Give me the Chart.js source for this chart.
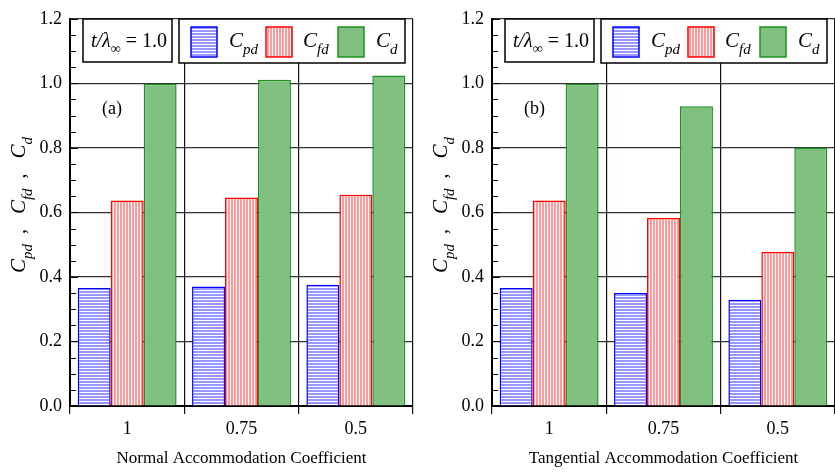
<!DOCTYPE html>
<html>
<head>
<meta charset="utf-8">
<title>Drag coefficients vs accommodation coefficient</title>
<script src="https://cdn.jsdelivr.net/npm/chart.js@4.4.1/dist/chart.umd.min.js"></script>
<style>
  html, body { margin:0; padding:0; background:#fff; overflow:hidden; }
  body { width:835px; height:472px; position:relative; }
  canvas { position:absolute; top:0; }
  #chartA { left:0; }
  #chartB { left:422px; }
</style>
</head>
<body>
<canvas id="chartA" width="421" height="472"></canvas>
<canvas id="chartB" width="421" height="472"></canvas>
<script>
// categories and tick values
const CATEGORIES = ['1', '0.75', '0.5'];
const Y_TICKS = [0, 0.2, 0.4, 0.6, 0.8, 1.0, 1.2];

// (a) normal accommodation coefficient
const CPD_NORMAL = [0.366, 0.370, 0.376];
const CFD_NORMAL = [0.637, 0.646, 0.655];
const CD_NORMAL  = [0.999, 1.011, 1.024];

// (b) tangential accommodation coefficient
const CPD_TANG = [0.366, 0.350, 0.329];
const CFD_TANG = [0.637, 0.583, 0.477];
const CD_TANG  = [0.999, 0.929, 0.801];

const SERIF = "'Liberation Serif', 'Times New Roman', serif";

Chart.defaults.font.family = SERIF;
Chart.defaults.font.size = 18;
Chart.defaults.color = '#000';

// striped fills like the original plot
function stripes(color, vertical) {
  const c = document.createElement('canvas');
  c.width = 3; c.height = 3;
  const g = c.getContext('2d');
  g.fillStyle = '#fff';
  g.fillRect(0, 0, 3, 3);
  g.fillStyle = color;
  if (vertical) g.fillRect(0, 0, 2, 3); else g.fillRect(0, 0, 3, 2);
  return g.createPattern(c, 'repeat');
}

function fontOf(p) {
  return (p.i ? 'italic ' : '') + (p.s || 20) + 'px ' + SERIF;
}

// draws text pieces side by side (used for subscripts)
function drawRich(ctx, parts, x, y, center) {
  let w = 0;
  parts.forEach(p => { ctx.font = fontOf(p); w += ctx.measureText(p.t).width; });
  let cx = center ? x - w / 2 : x;
  ctx.textAlign = 'left';
  ctx.textBaseline = 'alphabetic';
  parts.forEach(p => {
    ctx.font = fontOf(p);
    ctx.fillText(p.t, cx, y + (p.dy || 0));
    cx += ctx.measureText(p.t).width;
  });
}

const coef = sub => [{ t: 'C', i: true, s: 21 }, { t: sub, i: true, s: 15, dy: 7 }];

// minor ticks, legend boxes, panel tag and y title
const decoPlugin = {
  id: 'deco',
  afterDraw(chart, args, opts) {
    const ctx = chart.ctx;
    const y = chart.scales.y;
    const left = chart.chartArea.left;
    ctx.save();
    ctx.strokeStyle = '#000';
    ctx.lineWidth = 1;
    for (let i = 0; i <= 24; i++) {
      const py = Math.round(y.getPixelForValue(i * 0.05)) + 0.5;
      ctx.beginPath();
      ctx.moveTo(left, py);
      ctx.lineTo(left + (i % 4 === 0 ? 8 : 6), py);
      ctx.stroke();
    }

    ctx.lineWidth = 1.5;
    // parameter box
    ctx.fillStyle = '#fff';
    ctx.fillRect(83, 19, 89, 43);
    ctx.strokeRect(83, 19, 89, 43);
    ctx.fillStyle = '#000';
    drawRich(ctx, [
      { t: 't/λ', i: true, s: 20 },
      { t: '∞', i: true, s: 14, dy: 6 },
      { t: ' = 1.0', s: 20 }
    ], 129, 47, true);

    // legend box
    ctx.fillStyle = '#fff';
    ctx.fillRect(179, 19, 226, 44);
    ctx.strokeRect(179, 19, 226, 44);
    const sw = [191, 266, 338];
    const tx = [229, 303, 376];
    const subs = ['pd', 'fd', 'd'];
    chart.data.datasets.forEach((ds, k) => {
      ctx.fillStyle = ds.backgroundColor;
      ctx.fillRect(sw[k], 27, 26, 30);
      ctx.strokeStyle = ds.borderColor;
      ctx.lineWidth = 1.5;
      ctx.strokeRect(sw[k], 27, 26, 30);
      ctx.fillStyle = '#000';
      drawRich(ctx, coef(subs[k]), tx[k], 47, false);
    });

    // panel tag
    ctx.font = '18px ' + SERIF;
    ctx.fillText(opts.tag, 102, 114);

    // rotated y axis title
    ctx.translate(25, 205);
    ctx.rotate(-Math.PI / 2);
    drawRich(ctx, [].concat(
      coef('pd'), [{ t: '  ,   ' }],
      coef('fd'), [{ t: '  ,   ' }],
      coef('d')
    ), 0, 0, true);
    ctx.restore();
  }
};

function makeChart(id, tag, xTitle, cpd, cfd, cd) {
  const ctx = document.getElementById(id).getContext('2d');
  return new Chart(ctx, {
    type: 'bar',
    data: {
      labels: CATEGORIES,
      datasets: [
        { label: 'Cpd', data: cpd, backgroundColor: stripes('#9797ff', false), borderColor: '#0000ff', borderWidth: 1.5 },
        { label: 'Cfd', data: cfd, backgroundColor: stripes('#ff9a9a', true), borderColor: '#ff0000', borderWidth: 1.5 },
        { label: 'Cd', data: cd, backgroundColor: '#80c080', borderColor: '#1f8f1f', borderWidth: 1.5 }
      ]
    },
    options: {
      responsive: false,
      animation: false,
      devicePixelRatio: 1,
      layout: { padding: { top: 10, right: 8, left: 0, bottom: 0 } },
      datasets: { bar: { categoryPercentage: 0.865, barPercentage: 1 } },
      plugins: {
        legend: { display: false },
        tooltip: { enabled: false },
        deco: { tag: tag }
      },
      scales: {
        x: {
          grid: { color: '#111', lineWidth: 1.2, offset: true, tickLength: 8 },
          border: { color: '#000', width: 2 },
          ticks: { padding: 4, font: { size: 18 } },
          title: { display: true, text: xTitle, font: { size: 17 }, padding: { top: 0, bottom: 3 } },
          afterFit: s => { s.height = 66; }
        },
        y: {
          min: 0, max: 1.2,
          afterBuildTicks: s => { s.ticks = Y_TICKS.map(v => ({ value: v })); },
          grid: { color: '#333', lineWidth: 1.2, drawTicks: false },
          border: { color: '#000', width: 2 },
          ticks: { padding: 8, callback: v => v.toFixed(1), font: { size: 18 } },
          afterFit: s => { s.width = 70; }
        }
      }
    },
    plugins: [decoPlugin]
  });
}

makeChart('chartA', '(a)', 'Normal Accommodation Coefficient', CPD_NORMAL, CFD_NORMAL, CD_NORMAL);
makeChart('chartB', '(b)', 'Tangential Accommodation Coefficient', CPD_TANG, CFD_TANG, CD_TANG);
</script>
</body>
</html>
